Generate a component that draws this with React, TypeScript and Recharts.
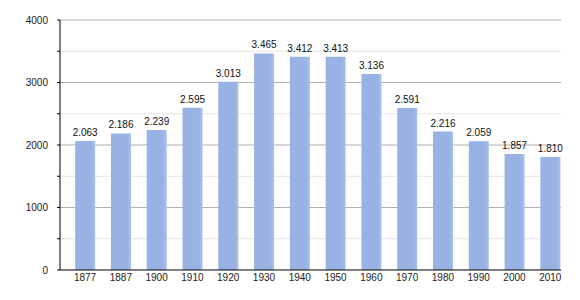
import { BarChart, Bar, XAxis, YAxis, CartesianGrid, LabelList } from 'recharts'

const years = ['1877', '1887', '1900', '1910', '1920', '1930', '1940', '1950', '1960', '1970', '1980', '1990', '2000', '2010']
const population = [2063, 2186, 2239, 2595, 3013, 3465, 3412, 3413, 3136, 2591, 2216, 2059, 1857, 1810]
const yTicks = [0, 500, 1000, 1500, 2000, 2500, 3000, 3500, 4000]
const majorLines = [1000, 2000, 3000, 4000]
const minorLines = [500, 1500, 2500, 3500]

// numeric x so bars can sit off-centre of the axis span like the original
const chartData = population.map((value, i) => ({ idx: i, year: years[i], value }))

const font = '"Liberation Sans", Arial, sans-serif'

const fmt = (v: number) => {
  const s = String(v)
  return s.length > 3 ? s.slice(0, -3) + '.' + s.slice(-3) : s
}

export default function App() {
  return (
    <div style={{ width: 564, height: 284, fontFamily: font }}>
      <BarChart
        width={564}
        height={284}
        data={chartData}
        margin={{ top: 12, right: 11, left: 0, bottom: 0 }}
      >
        <defs>
          <linearGradient id="barFill" x1="0" y1="0" x2="1" y2="0">
            <stop offset="0%" stopColor="#98b2e4" />
            <stop offset="80%" stopColor="#98b2e4" />
            <stop offset="100%" stopColor="#a9c0ec" />
          </linearGradient>
        </defs>
        <CartesianGrid vertical={false} horizontalValues={minorLines} stroke="#e4e4e4" />
        <CartesianGrid vertical={false} horizontalValues={majorLines} stroke="#b0b0b0" />
        <XAxis
          dataKey="idx"
          type="number"
          domain={[-0.7, 13.3]}
          ticks={years.map((_, i) => i)}
          tickFormatter={(i: number) => years[i]}
          interval={0}
          height={22}
          tickLine={false}
          tickSize={0}
          tickMargin={4}
          axisLine={{ stroke: '#000', strokeWidth: 1 }}
          tick={{ fill: '#222', fontSize: 10, fontFamily: font }}
        />
        <YAxis
          width={52}
          domain={[0, 4000]}
          ticks={yTicks}
          interval={0}
          tickFormatter={(v: number) => (v % 1000 === 0 ? String(v) : '')}
          tickSize={3}
          tickMargin={9}
          axisLine={{ stroke: '#000', strokeWidth: 1 }}
          tickLine={{ stroke: '#000' }}
          tick={{ fill: '#222', fontSize: 10, fontFamily: font }}
        />
        <Bar dataKey="value" fill="url(#barFill)" barSize={20} isAnimationActive={false}>
          <LabelList
            dataKey="value"
            position="top"
            offset={5}
            formatter={(v: number) => fmt(v)}
            style={{ fill: '#111', fontSize: 10, fontFamily: font }}
          />
        </Bar>
      </BarChart>
    </div>
  )
}
